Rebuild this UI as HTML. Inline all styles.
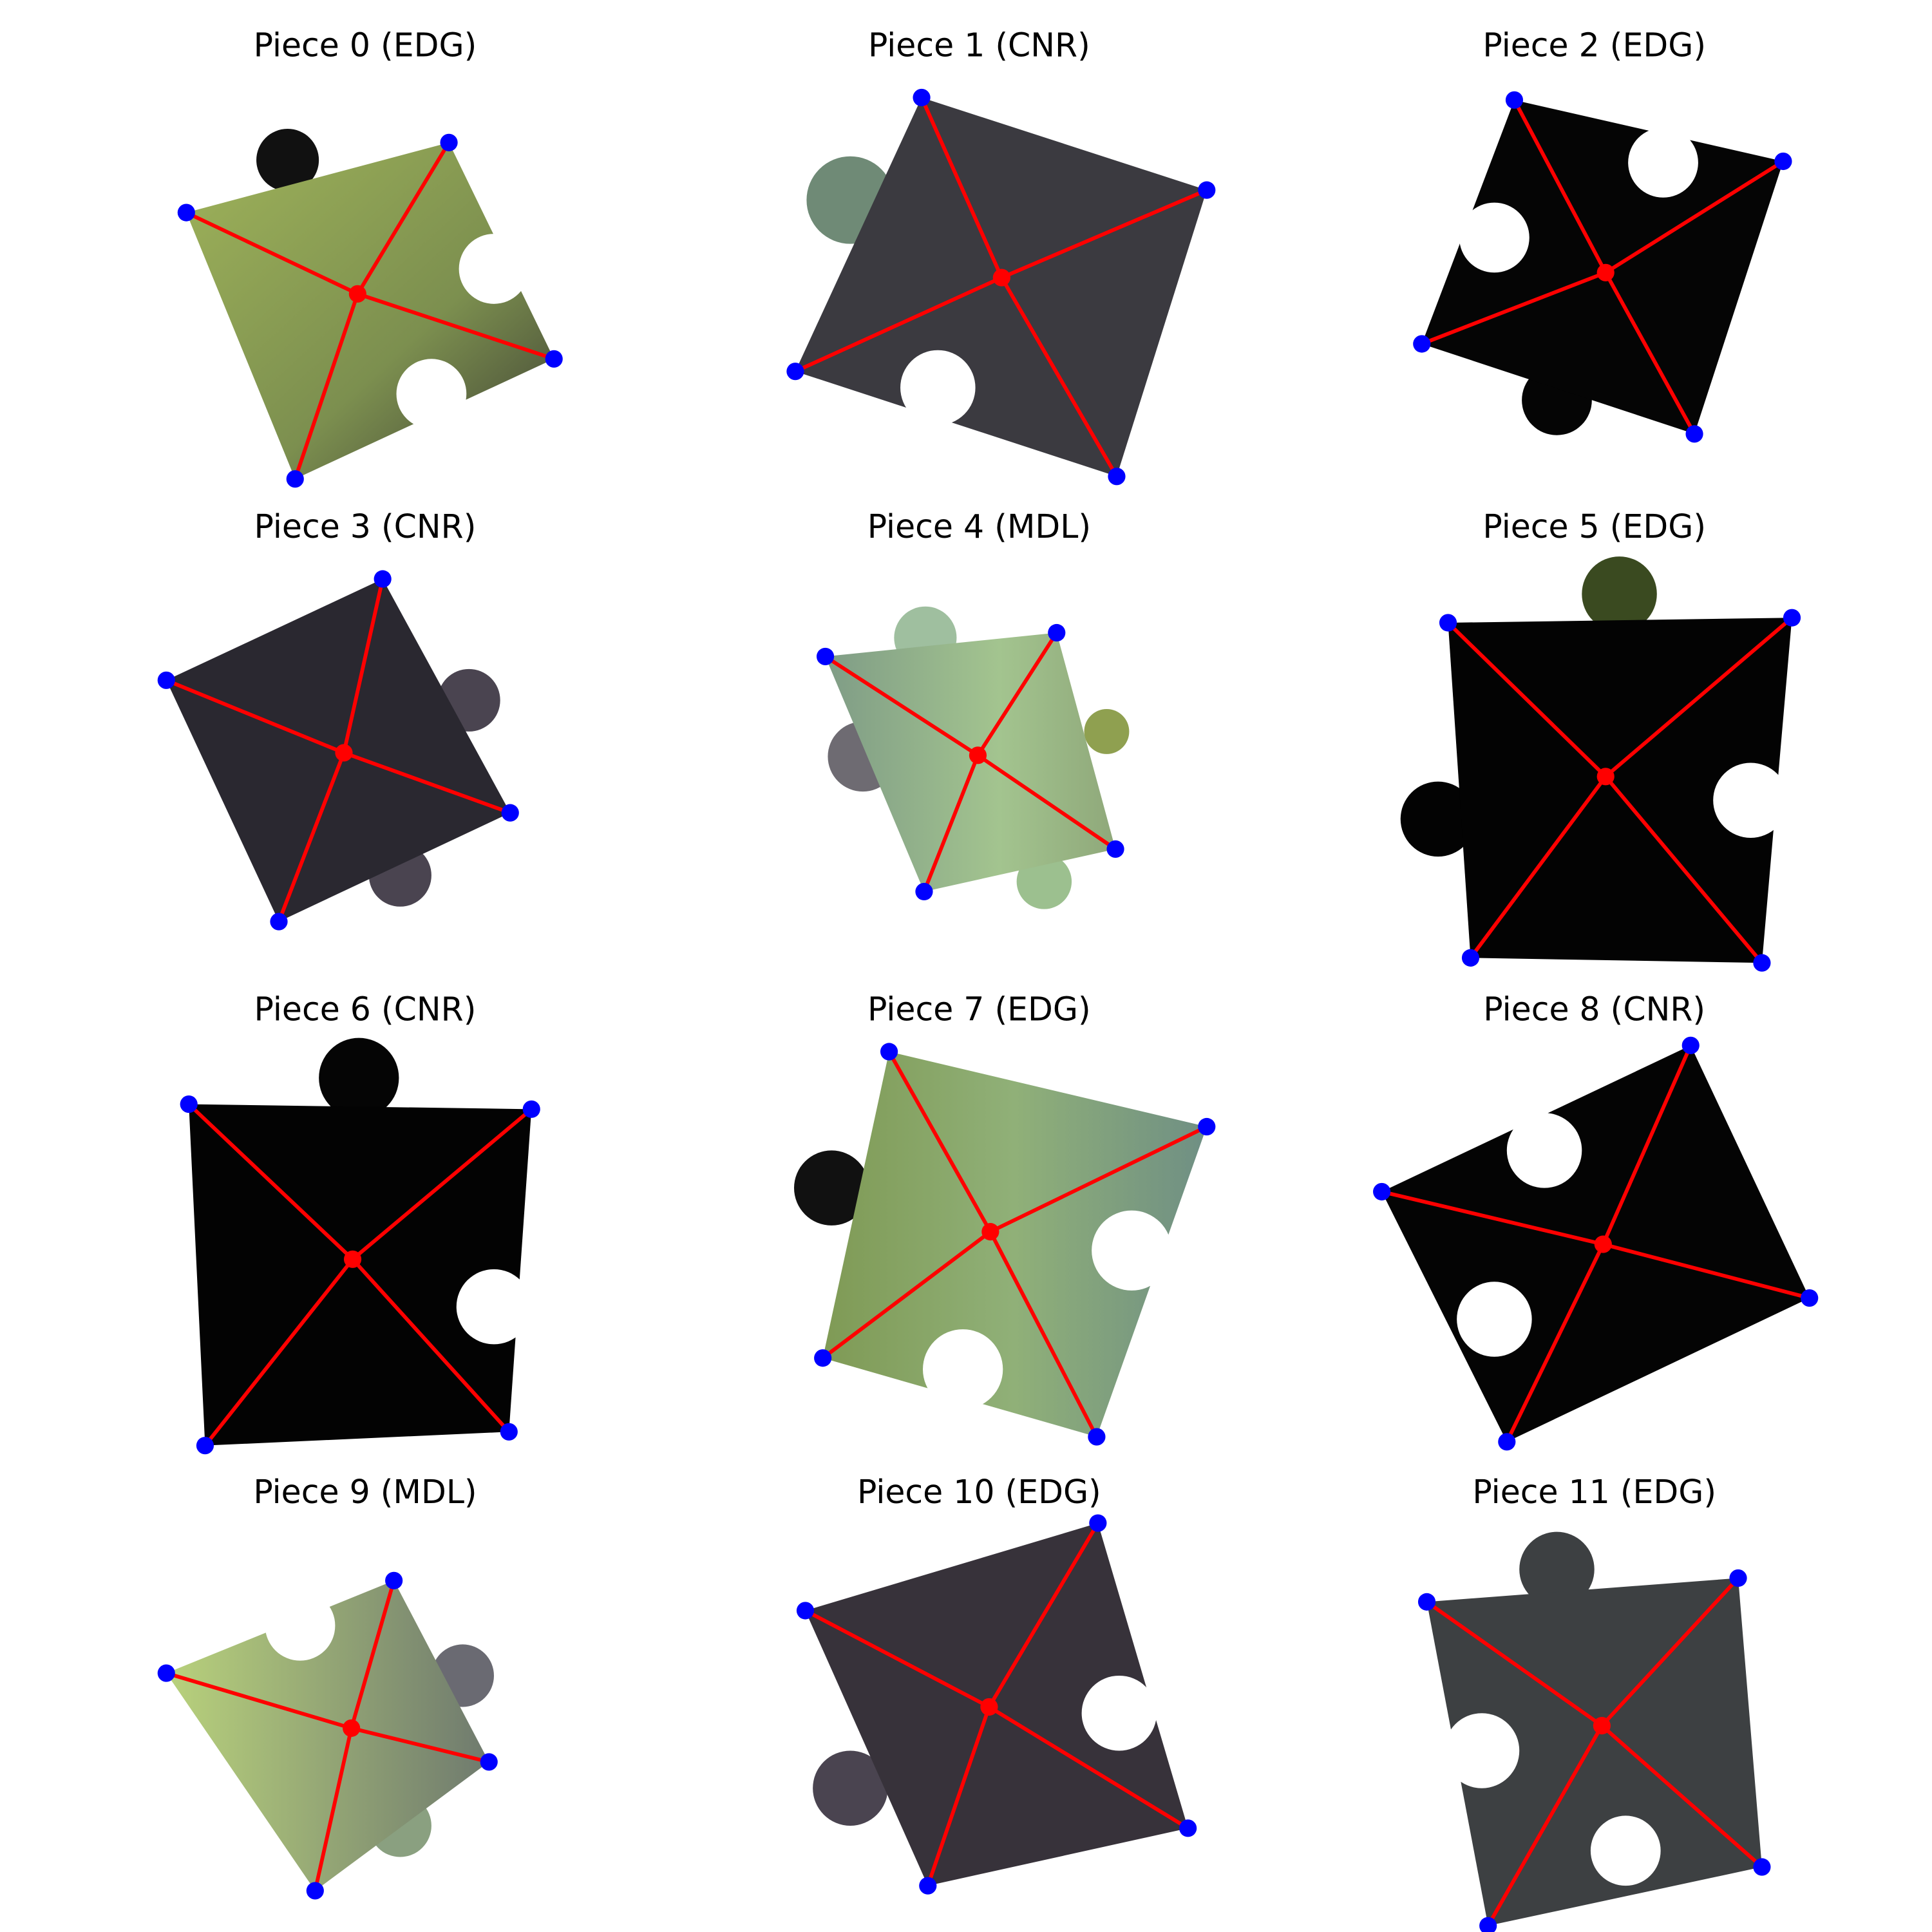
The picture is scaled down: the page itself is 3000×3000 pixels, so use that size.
<!DOCTYPE html>
<html><head><meta charset="utf-8"><style>
html,body{margin:0;padding:0;background:#fff}
svg{display:block}
text{font-family:"DejaVu Sans","Liberation Sans",sans-serif}
</style></head><body>
<svg id="fig" width="3000" height="3000" viewBox="0 0 1545 1545" xmlns="http://www.w3.org/2000/svg">
<defs>
<linearGradient id="gGreen" x1="0" y1="0" x2="1" y2="1"><stop offset="0" stop-color="#9fb35a"/><stop offset="0.6" stop-color="#7c8f4f"/><stop offset="1" stop-color="#3c3e33"/></linearGradient>
<linearGradient id="gMint" x1="0" y1="0" x2="1" y2="0"><stop offset="0" stop-color="#7f9c86"/><stop offset="0.6" stop-color="#a3c48f"/><stop offset="1" stop-color="#8fa87a"/></linearGradient>
<linearGradient id="gAur" x1="0" y1="0" x2="1" y2="0"><stop offset="0" stop-color="#7f9a55"/><stop offset="0.5" stop-color="#90b078"/><stop offset="1" stop-color="#6f8f84"/></linearGradient>
<linearGradient id="gLime" x1="0" y1="0" x2="1" y2="0"><stop offset="0" stop-color="#b9d27c"/><stop offset="1" stop-color="#6f7a6e"/></linearGradient>
</defs>
</svg>
<script>
const titles=["Piece 0 (EDG)","Piece 1 (CNR)","Piece 2 (EDG)","Piece 3 (CNR)","Piece 4 (MDL)","Piece 5 (EDG)","Piece 6 (CNR)","Piece 7 (EDG)","Piece 8 (CNR)","Piece 9 (MDL)","Piece 10 (EDG)","Piece 11 (EDG)"];
const titlePos=[[292,36],[783,36],[1275,36],[292,421],[783,421],[1275,421],[292,807],[783,807],[1275,807],[292,1193],[783,1193],[1275,1193]];
const corners=[
[[149,170],[359,114],[443,287],[236,383]],
[[737,78],[965,152],[893,381],[636,297]],
[[1211,80],[1426,129],[1355,347],[1137,275]],
[[306,463],[408,650],[223,737],[133,544]],
[[660,525],[845,506],[892,679],[739,713]],
[[1158,498],[1433,494],[1409,770],[1176,766]],
[[151,883],[425,887],[407,1145],[164,1156]],
[[711,841],[965,901],[877,1149],[658,1086]],
[[1352,836],[1447,1038],[1205,1153],[1105,953]],
[[315,1264],[391,1409],[252,1512],[133,1338]],
[[878,1218],[950,1462],[742,1508],[644,1288]],
[[1141,1281],[1390,1262],[1409,1493],[1190,1540]]];
const centers=[[286,235],[801,222],[1284,218],[275,602],[782,604],[1284,621],[282,1007],[792,985],[1282,995],[281,1382],[791,1365],[1281,1380]];
const fills=["url(#gGreen)","#3b3a40","#050505","#2a2830","url(#gMint)","#030303","#030303","url(#gAur)","#040404","url(#gLime)","#37323a","#3d4042"];
const tabs=[
[[230,128,25,"#111"]],
[[680,160,35,"#6f8a76"]],
[[1245,320,28,"#050505"]],
[[375,560,25,"#4a4450"],[320,700,25,"#4a4450"]],
[[740,510,25,"#9fbf9f"],[690,605,28,"#6e6b72"],[885,585,18,"#8fa050"],[835,705,22,"#9cc08f"]],
[[1295,475,30,"#3a4a20"],[1150,655,30,"#030303"]],
[[287,862,32,"#050505"]],
[[665,950,30,"#111"]],
[],
[[370,1340,25,"#6a6a72"],[320,1460,25,"#8aa080"]],
[[680,1430,30,"#4a4450"]],
[[1245,1255,30,"#3d4042"]]];
const blanks=[
[[395,215,28],[345,315,28]],
[[750,310,30]],
[[1330,130,28],[1195,190,28]],
[],[],
[[1400,640,30]],
[[395,1045,30]],
[[905,1000,32],[770,1095,32]],
[[1235,920,30],[1195,1055,30]],
[[240,1300,28]],
[[895,1370,30]],
[[1185,1400,30],[1300,1480,28]]];
const NS="http://www.w3.org/2000/svg";
const svg=document.getElementById('fig');
function mk(t,a){const e=document.createElementNS(NS,t);for(const k in a)e.setAttribute(k,a[k]);return e;}
for(let i=0;i<12;i++){
 const g=mk('g',{});
 
 
 svg.appendChild(g);
 const t=mk('text',{x:titlePos[i][0],y:titlePos[i][1]+9,'text-anchor':'middle','font-size':'26',fill:'#000'});
 
 
 t.textContent=titles[i];g.appendChild(t);
 tabs[i].forEach(c=>{const e=mk('circle',{cx:c[0],cy:c[1],r:c[2],fill:c[3]});
  
  
  g.appendChild(e);});
 const p=mk('polygon',{points:corners[i].map(c=>c.join(',')).join(' '),fill:fills[i]});
 
 
 g.appendChild(p);
 blanks[i].forEach(c=>{const e=mk('circle',{cx:c[0],cy:c[1],r:c[2],fill:'#fff'});
  
  
  g.appendChild(e);});
 const [cx,cy]=centers[i];
 corners[i].forEach(c=>{const l=mk('line',{x1:cx,y1:cy,x2:c[0],y2:c[1],stroke:'#f00','stroke-width':3});
  
  
  g.appendChild(l);});
 corners[i].forEach(c=>{const d=mk('circle',{cx:c[0],cy:c[1],r:7,fill:'#0000ff'});
  
  
  g.appendChild(d);});
 const cd=mk('circle',{cx:cx,cy:cy,r:7,fill:'#f00'});
 
 
 g.appendChild(cd);
}
</script>
</body></html>
